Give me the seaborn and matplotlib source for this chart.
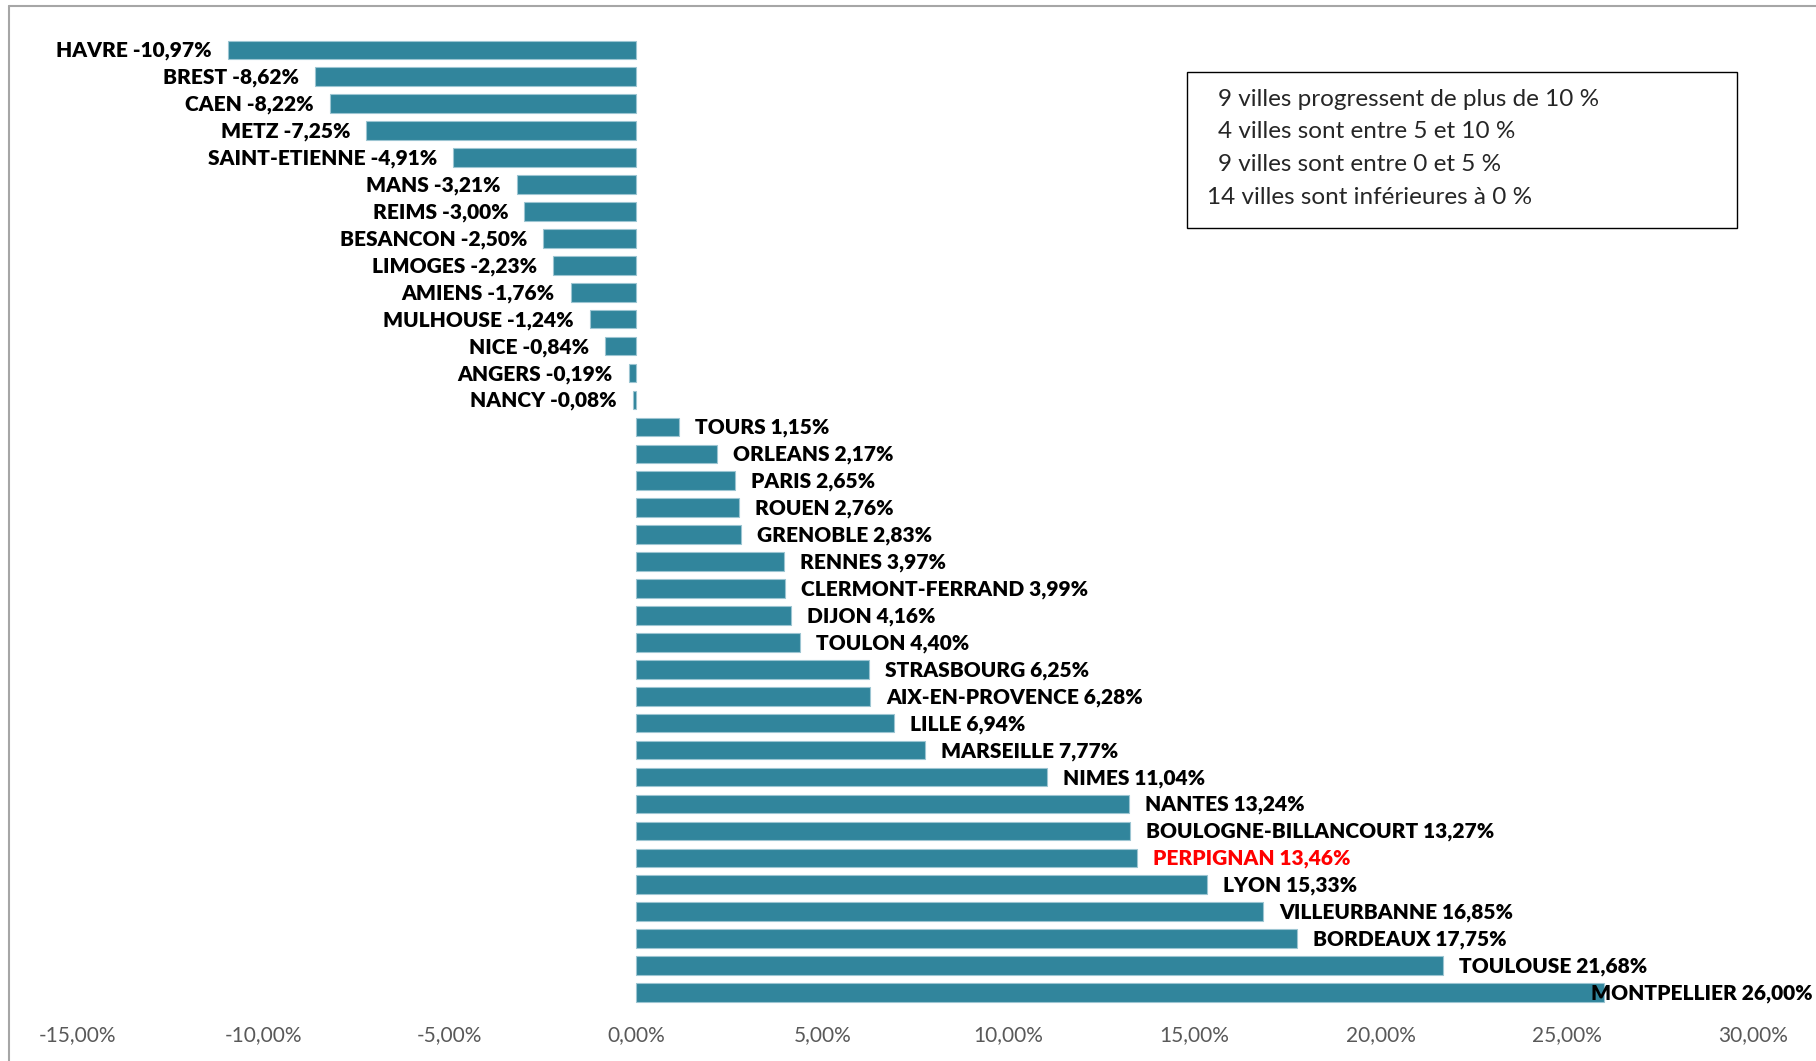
import pandas as pd
import numpy as np
import seaborn as sns
import matplotlib.pyplot as plt
from matplotlib.lines import Line2D
from matplotlib.patches import Rectangle

villes = ["HAVRE", "BREST", "CAEN", "METZ", "SAINT-ETIENNE", "MANS", "REIMS",
          "BESANCON", "LIMOGES", "AMIENS", "MULHOUSE", "NICE", "ANGERS", "NANCY",
          "TOURS", "ORLEANS", "PARIS", "ROUEN", "GRENOBLE", "RENNES",
          "CLERMONT-FERRAND", "DIJON", "TOULON", "STRASBOURG", "AIX-EN-PROVENCE",
          "LILLE", "MARSEILLE", "NIMES", "NANTES", "BOULOGNE-BILLANCOURT",
          "PERPIGNAN", "LYON", "VILLEURBANNE", "BORDEAUX", "TOULOUSE", "MONTPELLIER"]
evolution = [-10.97, -8.62, -8.22, -7.25, -4.91, -3.21, -3.00,
             -2.50, -2.23, -1.76, -1.24, -0.84, -0.19, -0.08,
             1.15, 2.17, 2.65, 2.76, 2.83, 3.97,
             3.99, 4.16, 4.40, 6.25, 6.28,
             6.94, 7.77, 11.04, 13.24, 13.27,
             13.46, 15.33, 16.85, 17.75, 21.68, 26.00]
x_ticks = [-15, -10, -5, 0, 5, 10, 15, 20, 25, 30]
encadre = ["9 villes progressent de plus de 10 %",
           "4 villes sont entre 5 et 10 %",
           "9 villes sont entre 0 et 5 %",
           "14 villes sont inférieures à 0 %"]
ville_rouge = "PERPIGNAN"

df = pd.DataFrame({"ville": villes, "evolution": evolution})

sns.set_style("white")
plt.rcParams['font.family'] = ['Lato', 'DejaVu Sans']

W, H = 1816, 1061
fig = plt.figure(figsize=(W / 100, H / 100), dpi=100)
ax = fig.add_axes([77.6 / W, 0.0493, (1753 - 77.6) / W, 0.919])

sns.barplot(data=df, x="evolution", y="ville", orient="h", color="#31859C",
            saturation=1, width=0.69, edgecolor="#9cc5d2", linewidth=0.8, ax=ax)

ax.set_xlim(-15, 30)
ax.set_ylim(35.6, -0.6)
ax.set_xticks(x_ticks)
ax.set_xticklabels([f"{t:.2f}%".replace(".", ",") for t in x_ticks],
                   color="#595959", fontsize=15)
ax.tick_params(axis="x", length=0, pad=12)
ax.set_yticks([])
ax.set_xlabel("")
ax.set_ylabel("")
for s in ax.spines.values():
    s.set_visible(False)

# etiquettes de donnees
for i, (v, val) in enumerate(zip(villes, evolution)):
    txt = f"{v} {val:.2f}%".replace(".", ",")
    col = "red" if v == ville_rouge else "black"
    if val < 0:
        dx, ha = -16, "right"
    elif i == len(villes) - 1:
        dx, ha = -13, "left"
    else:
        dx, ha = 16, "left"
    ax.annotate(txt, (val, i), xytext=(dx, -1), textcoords="offset pixels",
                ha=ha, va="center", fontsize=15, fontweight="heavy", color=col)

# encadre
fig.add_artist(Rectangle((1187 / W, 1 - 228 / H), 550 / W, 156 / H,
                         transform=fig.transFigure, fill=False,
                         edgecolor="black", linewidth=1))
ys = [99, 132, 164, 197]
for t, y in zip(encadre, ys):
    xx = 1207 if t.startswith("14") else 1218
    fig.text(xx / W, 1 - y / H, t, ha="left", va="center", fontsize=17.5)

# bordure du graphique
fig.add_artist(Line2D([9 / W, 1], [1 - 6 / H, 1 - 6 / H], color="#a6a6a6", lw=1.5))
fig.add_artist(Line2D([9 / W, 9 / W], [0, 1 - 6 / H], color="#a6a6a6", lw=1.5))

fig.savefig("out.png", dpi=100)
